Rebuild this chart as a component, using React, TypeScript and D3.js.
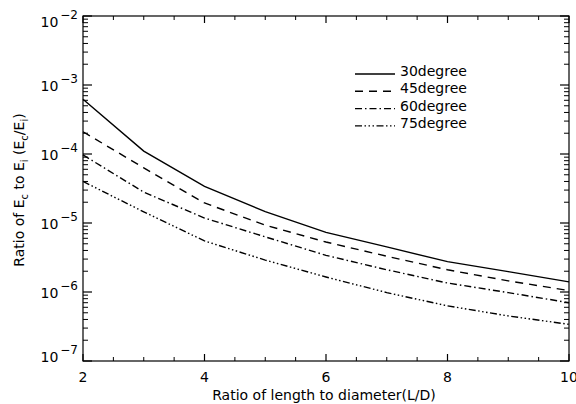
import React from 'react';
import * as d3 from 'd3';

// L/D ratios along the x axis
const lengthRatio = [2, 3, 4, 5, 6, 7, 8, 9, 10];

// Ec/Ei for each angle
const deg30 = [6.2e-4, 1.1e-4, 3.4e-5, 1.46e-5, 7.3e-6, 4.5e-6, 2.75e-6, 1.97e-6, 1.4e-6];
const deg45 = [2.1e-4, 6.3e-5, 1.95e-5, 9.3e-6, 5.3e-6, 3.3e-6, 2.1e-6, 1.45e-6, 1.05e-6];
const deg60 = [9.7e-5, 2.8e-5, 1.18e-5, 6.3e-6, 3.4e-6, 2.1e-6, 1.35e-6, 9.8e-7, 7.0e-7];
const deg75 = [4.0e-5, 1.45e-5, 5.5e-6, 2.9e-6, 1.65e-6, 9.8e-7, 6.3e-7, 4.5e-7, 3.4e-7];

const seriesNames = ['30degree', '45degree', '60degree', '75degree'];
const xTicks = [2, 4, 6, 8, 10];
const yExponents = [-2, -3, -4, -5, -6, -7];

const W = 576;
const H = 404;
const margin = { top: 16, right: 7, bottom: 43, left: 83 };
const font = '"DejaVu Sans", sans-serif';

const dashes = ['', '8,6', '7,3,1.5,3', '7,2.5,1.5,2.5,1.5,2.5,1.5,2.5'];

export default function App() {
  const x = d3.scaleLinear().domain([2, 10]).range([margin.left, W - margin.right]);
  const y = d3.scaleLog().domain([1e-7, 1e-2]).range([H - margin.bottom, margin.top]);

  const series = [deg30, deg45, deg60, deg75];
  const line = d3.line<number>()
    .x((d, i) => x(lengthRatio[i]))
    .y(d => y(d));

  const x0 = x(2), x1 = x(10), y0 = y(1e-7), y1 = y(1e-2);

  // minor ticks for the log axis
  const minorY: number[] = [];
  for (let e = -7; e < -2; e++) {
    for (let m = 2; m <= 9; m++) minorY.push(m * Math.pow(10, e));
  }
  const minorX = d3.range(2.5, 10, 0.5).filter(v => v % 2 !== 0);

  // label shifts so the end labels sit inside the frame, as in the figure
  const labelShift = (e: number) => (e === -2 ? 11 : e === -7 ? 1 : 6);

  return (
    <svg width={W} height={H} style={{ position: 'absolute', left: 0, top: 0, background: '#fff' }}
      fontFamily={font}>
      {/* frame */}
      <rect x={x0} y={y1} width={x1 - x0} height={y0 - y1} fill="none" stroke="#000" strokeWidth={1.2} />

      {/* y ticks, left and right */}
      {yExponents.map(e => (
        <g key={'yt' + e}>
          <line x1={x0} x2={x0 + 9} y1={y(Math.pow(10, e))} y2={y(Math.pow(10, e))} stroke="#000" strokeWidth={1.2} />
          <line x1={x1} x2={x1 - 9} y1={y(Math.pow(10, e))} y2={y(Math.pow(10, e))} stroke="#000" strokeWidth={1.2} />
        </g>
      ))}
      {minorY.map((v, i) => (
        <g key={'ym' + i}>
          <line x1={x0} x2={x0 + 5} y1={y(v)} y2={y(v)} stroke="#000" strokeWidth={1} />
          <line x1={x1} x2={x1 - 5} y1={y(v)} y2={y(v)} stroke="#000" strokeWidth={1} />
        </g>
      ))}

      {/* x ticks, bottom and top */}
      {xTicks.map(t => (
        <g key={'xt' + t}>
          <line x1={x(t)} x2={x(t)} y1={y0} y2={y0 - 7} stroke="#000" strokeWidth={1.2} />
          <line x1={x(t)} x2={x(t)} y1={y1} y2={y1 + 7} stroke="#000" strokeWidth={1.2} />
        </g>
      ))}
      {minorX.map(t => (
        <g key={'xm' + t}>
          <line x1={x(t)} x2={x(t)} y1={y0} y2={y0 - 4} stroke="#000" strokeWidth={1} />
          <line x1={x(t)} x2={x(t)} y1={y1} y2={y1 + 4} stroke="#000" strokeWidth={1} />
        </g>
      ))}

      {/* y tick labels */}
      {yExponents.map(e => (
        <text key={'yl' + e} x={x0 - 5} y={y(Math.pow(10, e)) + labelShift(e)} textAnchor="end"
          fontSize={14} fill="#000">
          10<tspan dx={2} dy={-8} fontSize={12}>{'\u2212' + Math.abs(e)}</tspan>
        </text>
      ))}

      {/* x tick labels (the last one is cut by the page edge, as in the figure) */}
      {xTicks.map(t => (
        <text key={'xl' + t} x={x(t)} y={382} textAnchor="middle" fontSize={14} fill="#000">{t}</text>
      ))}

      {/* axis titles */}
      <text x={(x0 + x1) / 2 - 2} y={400} textAnchor="middle" fontSize={14} fill="#000">
        Ratio of length to diameter(L/D)
      </text>
      <text transform={`translate(24,190) rotate(-90)`} textAnchor="middle" fontSize={14} fill="#000">
        Ratio of E<tspan dy={4} fontSize={10}>c</tspan><tspan dy={-4}> to E</tspan>
        <tspan dy={4} fontSize={10}>i</tspan><tspan dy={-4}> (E</tspan>
        <tspan dy={4} fontSize={10}>c</tspan><tspan dy={-4}>/E</tspan>
        <tspan dy={4} fontSize={10}>i</tspan><tspan dy={-4}>)</tspan>
      </text>

      {/* curves */}
      {series.map((s, i) => (
        <path key={'s' + i} d={line(s) || ''} fill="none" stroke="#000" strokeWidth={1.4}
          strokeDasharray={dashes[i] || undefined} />
      ))}

      {/* legend */}
      {seriesNames.map((name, i) => (
        <g key={'lg' + i} transform={`translate(355,${74 + i * 17.3})`}>
          <line x1={0} x2={40} y1={0} y2={0} stroke="#000" strokeWidth={1.4}
            strokeDasharray={dashes[i] || undefined} />
          <text x={45} y={2} fontSize={14} fill="#000">{name}</text>
        </g>
      ))}
    </svg>
  );
}
